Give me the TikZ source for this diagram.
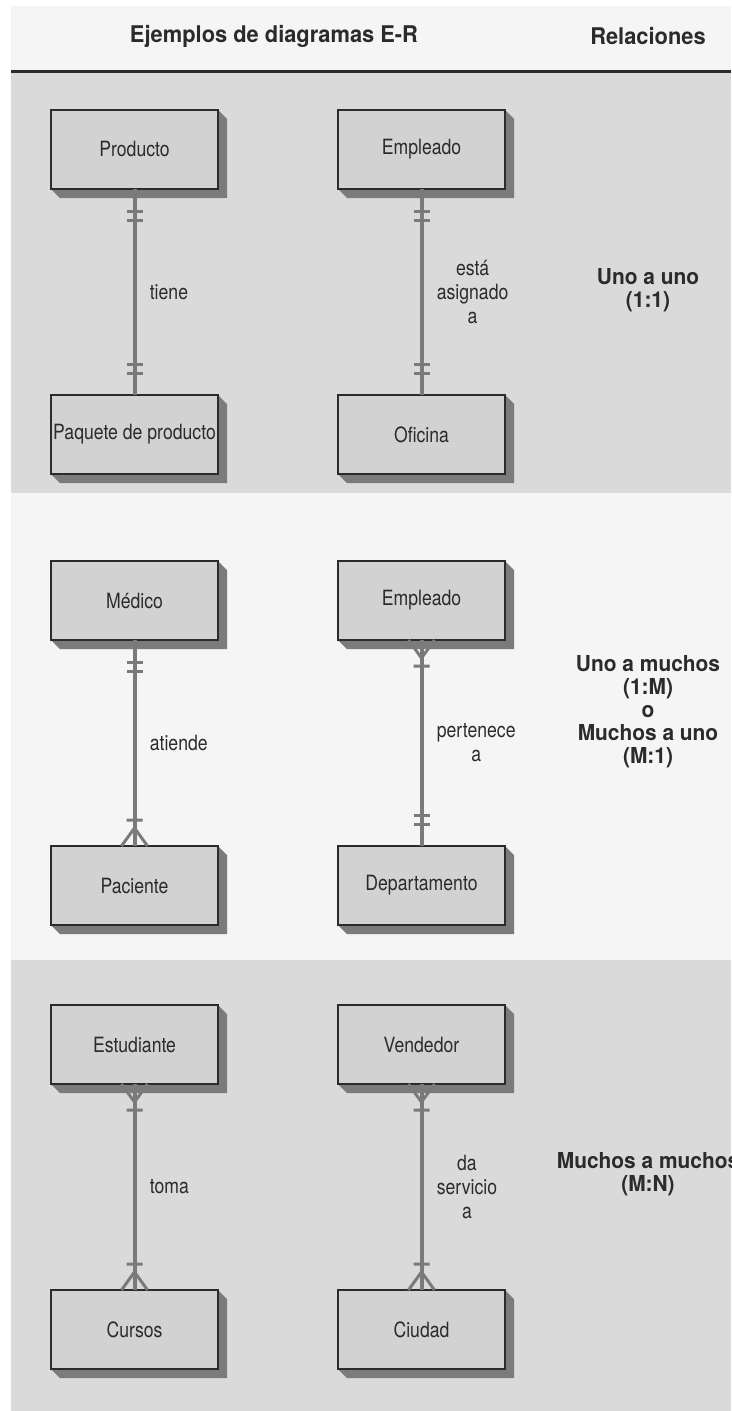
\documentclass[tikz,border=0pt]{standalone}
\usepackage{fontspec}
\setmainfont{TeX Gyre Heros}[FakeStretch=0.84]
\newfontfamily\headfont{TeX Gyre Heros}[FakeStretch=0.95]
\definecolor{bandgray}{HTML}{DADADA}
\definecolor{bandlight}{HTML}{F5F5F5}
\definecolor{boxgray}{HTML}{D2D2D2}
\definecolor{shadegray}{HTML}{7B7B7B}
\definecolor{linkgray}{HTML}{7A7A7A}
\definecolor{inkgray}{HTML}{2B2B2B}
\pgfdeclarelayer{bands}
\pgfdeclarelayer{shades}
\pgfsetlayers{bands,shades,main}

\begin{document}
\begin{tikzpicture}[x=1pt, y=-1pt,
    entity/.style={draw=inkgray, line width=1.2pt, fill=boxgray, minimum width=167pt,
      minimum height=79pt, inner sep=0pt, outer sep=0pt, text=inkgray,
      font=\fontsize{21}{24}\selectfont},
    conn/.style={draw=linkgray, line width=4pt},
    mk/.style={draw=linkgray, line width=3pt},
    lbl/.style={anchor=west, xshift=10pt, align=center, text=inkgray,
      font=\fontsize{21}{24}\selectfont},
    rel/.style={align=center, text=inkgray, font=\headfont\bfseries\fontsize{22}{23}\selectfont},
    one/.pic={\draw[mk] (-8,22) -- (8,22) (-8,31) -- (8,31);},
    many/.pic={\draw[mk] (-13,0) -- (0,18) -- (13,0) (-8,26) -- (8,26);},
  ]
  \useasboundingbox (0,0) rectangle (731,1411);

  % background bands
  \begin{pgfonlayer}{bands}
    \fill[white] (0,0) rectangle (731,1411);
    \fill[bandlight] (11,6) rectangle (731,70);
    \fill[bandgray] (11,72) rectangle (731,493);
    \fill[bandlight] (11,493) rectangle (731,960);
    \fill[bandgray] (11,960) rectangle (731,1411);
    \draw[inkgray, line width=3pt] (11,71.5) -- (731,71.5);
  \end{pgfonlayer}

  \node[font=\headfont\bfseries\fontsize{23}{26}\selectfont, text=inkgray] (htitle) at (274,36) {Ejemplos de diagramas E-R};
  \node[font=\headfont\bfseries\fontsize{23}{26}\selectfont, text=inkgray] (hrel) at (648,36) {Relaciones};

  % entities
  \foreach \nm/\cx/\cy/\txt in {prod/134.5/149.5/Producto, paq/134.5/434.5/Paquete de producto,
      empa/421.5/149.5/Empleado, ofi/421.5/434.5/Oficina,
      med/134.5/600.5/Médico, pac/134.5/885.5/Paciente,
      empb/421.5/600.5/Empleado, dep/421.5/885.5/Departamento,
      est/134.5/1044.5/Estudiante, cur/134.5/1329.5/Cursos,
      ven/421.5/1044.5/Vendedor, ciu/421.5/1329.5/Ciudad} {
    \node[entity] (\nm) at (\cx,\cy) {\txt};
  }

  % shadows
  \begin{pgfonlayer}{shades}
    \foreach \nm in {prod,paq,empa,ofi,med,pac,empb,dep,est,cur,ven,ciu} {
      \fill[shadegray] (\nm.north east) -- ++(9,9) -- ([shift={(9,9)}]\nm.south east)
        -- ([shift={(9,9)}]\nm.south west) -- (\nm.south west) -- cycle;
    }
  \end{pgfonlayer}

  % relationships
  \draw[conn] (prod) -- node[lbl] {tiene} (paq);
  \pic at (prod.south) {one};
  \pic[rotate=180] at (paq.north) {one};

  \draw[conn] (empa) -- node[lbl] {está\\asignado\\a} (ofi);
  \pic at (empa.south) {one};
  \pic[rotate=180] at (ofi.north) {one};

  \draw[conn] (med) -- node[lbl] {atiende} (pac);
  \pic at (med.south) {one};
  \pic[rotate=180] at (pac.north) {many};

  \draw[conn] (empb) -- node[lbl] {pertenece\\a} (dep);
  \pic at (empb.south) {many};
  \pic[rotate=180] at (dep.north) {one};

  \draw[conn] (est) -- node[lbl] {toma} (cur);
  \pic at (est.south) {many};
  \pic[rotate=180] at (cur.north) {many};

  \draw[conn] (ven) -- node[lbl] {da\\servicio\\a} (ciu);
  \pic at (ven.south) {many};
  \pic[rotate=180] at (ciu.north) {many};

  % relationship kinds
  \node[rel] (kind1) at (648,290) {Uno a uno\\(1:1)};
  \node[rel] (kind2) at (648,712) {Uno a muchos\\(1:M)\\o\\Muchos a uno\\(M:1)};
  \node[rel] (kind3) at (648,1174) {Muchos a muchos\\(M:N)};
\end{tikzpicture}
\end{document}
